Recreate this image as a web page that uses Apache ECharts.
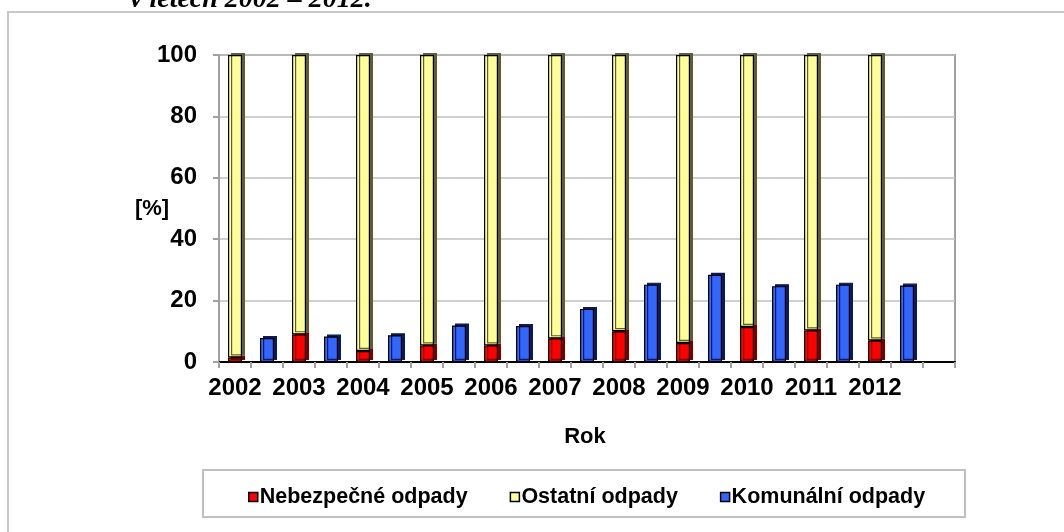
<!DOCTYPE html>
<html>
<head>
<meta charset="utf-8">
<script src="https://cdn.jsdelivr.net/npm/echarts@6/dist/echarts.min.js"></script>
<style>
html,body{margin:0;padding:0;background:#fff;}
#chart{width:1064px;height:532px;}
</style>
</head>
<body>
<div id="chart"></div>
<script>
const years = ['2002','2003','2004','2005','2006','2007','2008','2009','2010','2011','2012'];
const hazardous = [1.5, 9.0, 3.6, 5.4, 5.4, 7.7, 10.0, 6.2, 11.4, 10.3, 7.0];
const other = [98.5, 91.0, 96.4, 94.6, 94.6, 92.3, 90.0, 93.8, 88.6, 89.7, 93.0];
const municipal = [7.8, 8.3, 8.7, 11.9, 11.7, 17.3, 25.2, 28.4, 24.7, 25.2, 24.9];
const yTicks = [0, 20, 40, 60, 80, 100];
const seriesNames = ['Nebezpečné odpady', 'Ostatní odpady', 'Komunální odpady'];

// category slots: stacked bar slot, municipal slot per year, plus one empty slot
const slots = [];
const hazData = [], otherData = [], munData = [];
years.forEach((y, i) => {
  slots.push(y); hazData.push(hazardous[i]); otherData.push(other[i]); munData.push(null);
  slots.push(y + '_k'); hazData.push(null); otherData.push(null); munData.push(municipal[i]);
});
slots.push('end'); hazData.push(null); otherData.push(null); munData.push(null);

const FONT = '"Liberation Sans", Arial, sans-serif';
const chart = echarts.init(document.getElementById('chart'), null, {renderer: 'canvas'});

function barStyle(color, side) {
  return {
    color: color, borderColor: '#000', borderWidth: 1.2,
    shadowColor: side, shadowBlur: 0, shadowOffsetX: 3, shadowOffsetY: -2
  };
}

chart.setOption({
  animation: false,
  backgroundColor: '#fff',
  grid: {left: 219, right: 109, top: 55, bottom: 170, show: true, borderColor: '#a0a0a0', borderWidth: 2},
  legend: {
    left: 243, top: 481, itemWidth: 9, itemHeight: 9, itemGap: 42, icon: 'rect',
    data: seriesNames,
    textStyle: {fontFamily: FONT, fontWeight: 'bold', fontSize: 21.5, color: '#000', padding: [0,0,0,-3]},
    itemStyle: {borderColor: '#000', borderWidth: 1.5}
  },
  xAxis: {
    type: 'category', data: slots,
    axisLine: {lineStyle: {color: '#000', width: 2}},
    axisTick: {show: true, interval: 0, alignWithLabel: false, length: 6, lineStyle: {color: '#a0a0a0', width: 2}},
    axisLabel: {
      interval: 0, margin: 14, color: '#000', fontFamily: FONT, fontWeight: 'bold', fontSize: 24,
      formatter: v => years.indexOf(v) >= 0 ? v : ''
    }
  },
  yAxis: {
    type: 'value', min: 0, max: 100, interval: 20,
    axisLine: {show: true, lineStyle: {color: '#a0a0a0', width: 2}},
    axisTick: {show: true, length: 6, lineStyle: {color: '#a0a0a0', width: 2}},
    splitLine: {lineStyle: {color: '#c0c0c0', width: 1.5}},
    axisLabel: {
      margin: 22, color: '#000', fontFamily: FONT, fontWeight: 'bold', fontSize: 24,
      formatter: v => yTicks.indexOf(v) >= 0 ? String(v) : ''
    }
  },
  series: [
    {name: seriesNames[0], type: 'bar', stack: 's', barWidth: 14, data: hazData, itemStyle: barStyle('#ff0000', '#7a0000')},
    {name: seriesNames[1], type: 'bar', stack: 's', barWidth: 14, data: otherData, itemStyle: barStyle('#ffff99', '#5e5e30')},
    {name: seriesNames[2], type: 'bar', stack: 's', barWidth: 14, data: munData, itemStyle: barStyle('#3366ff', '#0d1a55')}
  ],
  graphic: [
    {type: 'rect', shape: {x: 8, y: 12, width: 1100, height: 600}, style: {fill: 'none', stroke: '#c8c8c8', lineWidth: 2}, z: -10},
    {type: 'rect', shape: {x: 203, y: 470, width: 762, height: 47}, style: {fill: 'none', stroke: '#c0c0c0', lineWidth: 2}},
    {type: 'text', x: 130, y: 0, style: {text: 'v letech 2002 – 2012.', fontFamily: '"Liberation Serif", "Times New Roman", serif', fontStyle: 'italic', fontWeight: 'bold', fontSize: 28, fill: '#000', verticalAlign: 'middle'}},
    {type: 'text', x: 152, y: 209, style: {text: '[%]', fontFamily: FONT, fontWeight: 'bold', fontSize: 22, fill: '#000', align: 'center', verticalAlign: 'middle'}},
    {type: 'text', x: 585, y: 437, style: {text: 'Rok', fontFamily: FONT, fontWeight: 'bold', fontSize: 22, fill: '#000', align: 'center', verticalAlign: 'middle'}}
  ]
});
</script>
</body>
</html>
